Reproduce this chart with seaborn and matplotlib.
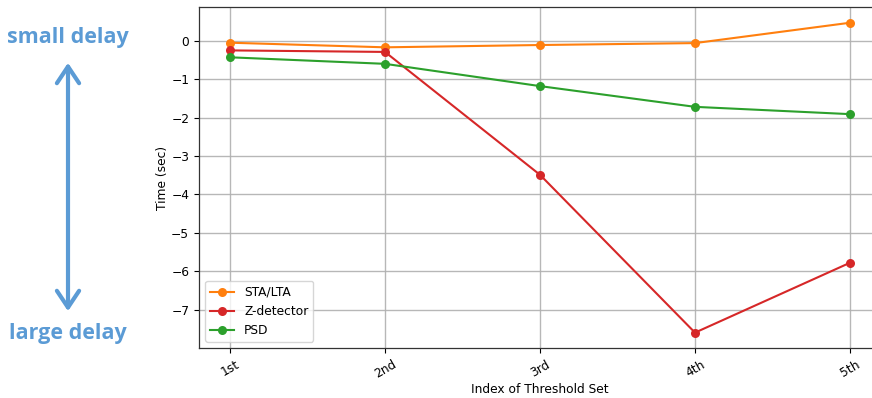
import matplotlib
matplotlib.use("Agg")
import matplotlib.pyplot as plt
from matplotlib.patches import FancyArrowPatch
import seaborn as sns
import pandas as pd

# Detection delay per threshold set
threshold_sets = ["1st", "2nd", "3rd", "4th", "5th"]
sta_lta = [-0.05, -0.17, -0.11, -0.06, 0.47]
z_detector = [-0.25, -0.29, -3.49, -7.60, -5.78]
psd = [-0.43, -0.60, -1.18, -1.72, -1.91]

methods = ["STA/LTA", "Z-detector", "PSD"]
colors = ["#ff7f0e", "#d62728", "#2ca02c"]

rows = []
for name, vals in zip(methods, [sta_lta, z_detector, psd]):
    for i, v in enumerate(vals):
        rows.append({"idx": i, "method": name, "time": v})
df = pd.DataFrame(rows)

plt.rcParams["font.family"] = ["DejaVu Sans"]
fig = plt.figure(figsize=(8.72, 3.98), dpi=100)
ax = fig.add_axes([199 / 872, 1 - 348 / 398, 682 / 872, 341 / 398])

sns.lineplot(data=df, x="idx", y="time", hue="method", hue_order=methods,
             palette=colors, marker="o", markersize=6.5, markeredgewidth=0,
             linewidth=1.5, ax=ax)

ax.grid(True, color="#b0b0b0", linewidth=1.0, alpha=0.9)
ax.set_axisbelow(True)
ax.set_xlim(-0.2, 4.2)
ax.set_ylim(-8.0, 0.88)
ax.set_xticks(range(len(threshold_sets)))
ax.set_xticklabels(threshold_sets, rotation=30)
ax.set_yticks(range(-7, 1))
ax.tick_params(labelsize=8.8, length=3.5, width=0.8)
ax.set_xlabel("Index of Threshold Set", fontsize=8.8, labelpad=1.5)
ax.set_ylabel("Time (sec)", fontsize=8.8, labelpad=1.5)
for s in ax.spines.values():
    s.set_color("#333333")
    s.set_linewidth(0.9)

leg = ax.legend(loc="lower left", fontsize=8.8, frameon=True)
leg.get_frame().set_edgecolor("#cccccc")

blue = "#5b9bd5"
fig.text(68 / 872, 1 - 38 / 398, "small delay", color=blue, fontsize=15.5,
         fontweight="bold", family="Open Sans", ha="center", va="center")
fig.text(68 / 872, 1 - 334 / 398, "large delay", color=blue, fontsize=15.5,
         fontweight="bold", family="Open Sans", ha="center", va="center")
arrow = FancyArrowPatch((68 / 872, 1 - 314 / 398), (68 / 872, 1 - 60 / 398),
                        transform=fig.transFigure,
                        arrowstyle="<->,head_length=6,head_width=4",
                        color=blue, linewidth=3, mutation_scale=2)
fig.patches.append(arrow)

fig.savefig("out.png", dpi=100)
